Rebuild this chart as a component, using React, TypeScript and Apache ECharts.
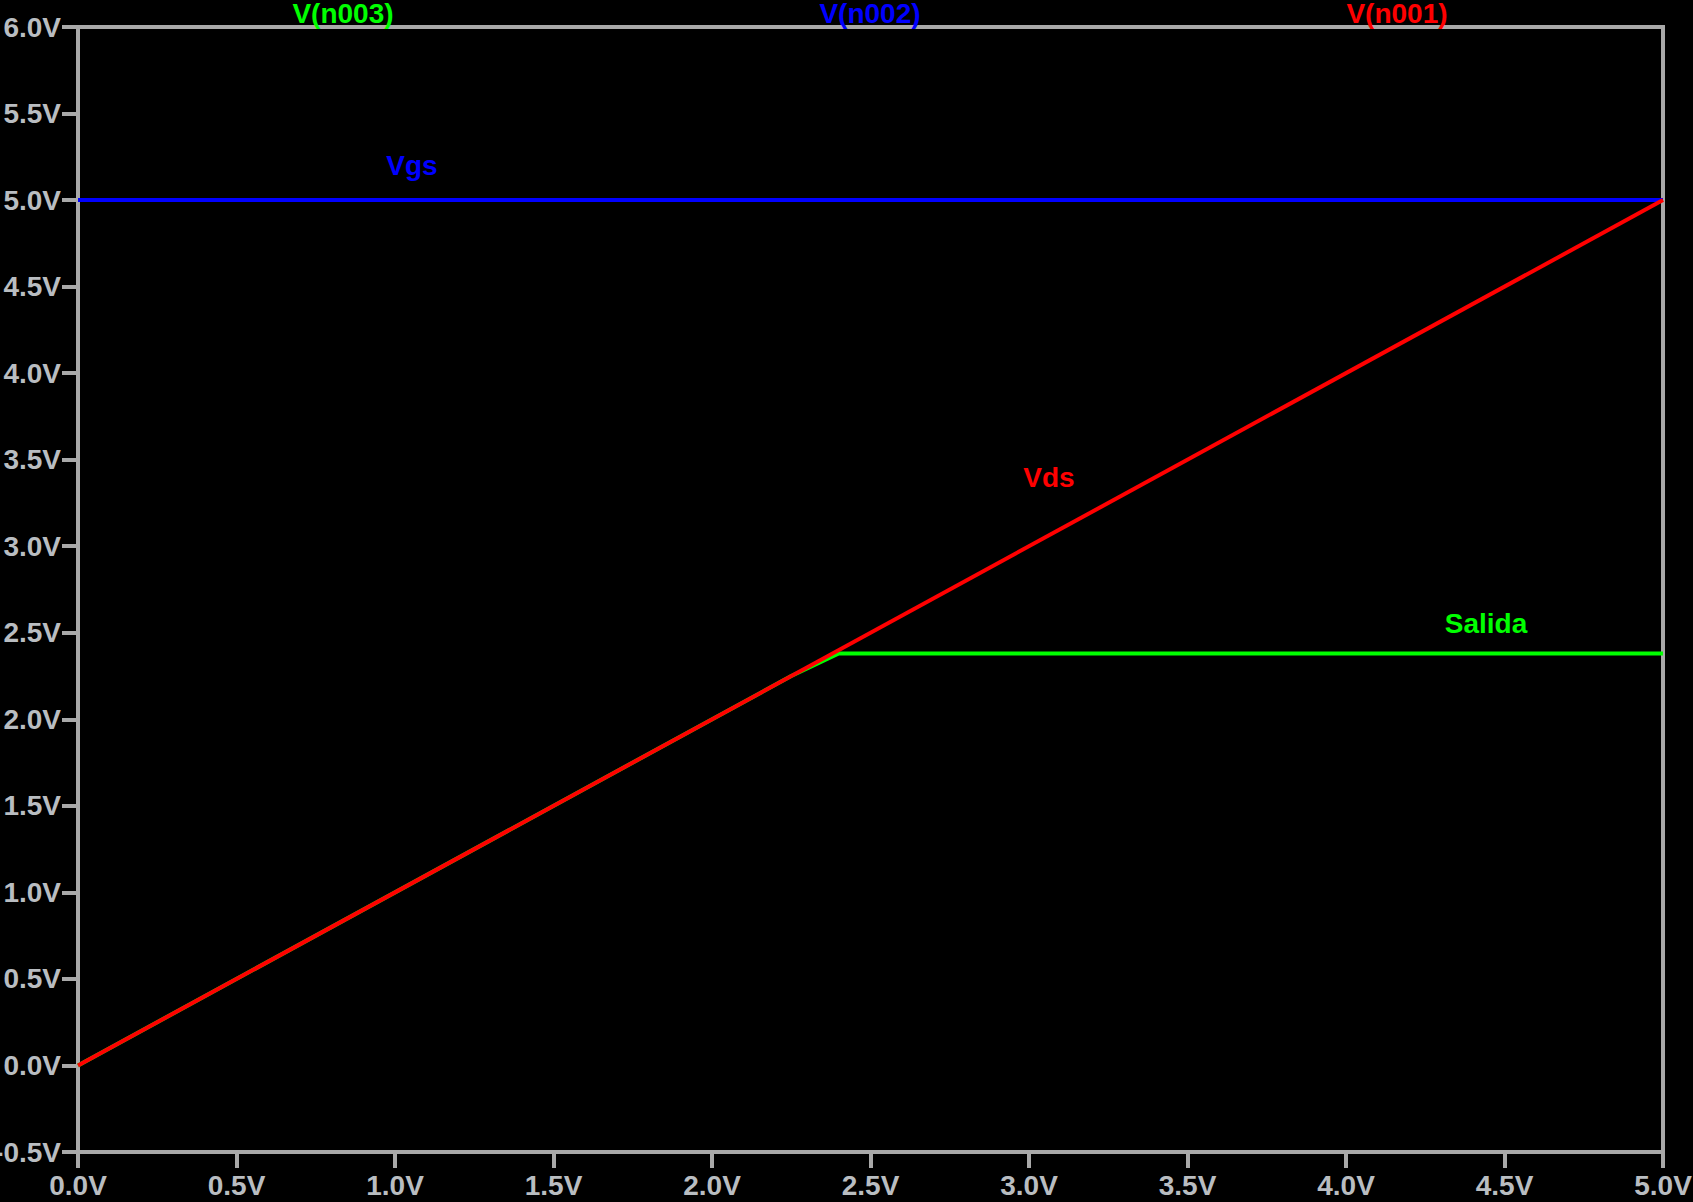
import React, { useEffect, useRef } from "react";
import * as echarts from "echarts";

const xTicksMin = 0;
const xTicksMax = 5;
const yTicksMin = -0.5;
const yTicksMax = 6;
const tickStep = 0.5;

const vgsX = [0, 5];
const vgsY = [5, 5];
const vdsX = [0, 5];
const vdsY = [0, 5];
const salidaX = [0, 2.25, 2.4, 5];
const salidaY = [0, 2.25, 2.38, 2.38];

const traceNames = ["V(n003)", "V(n002)", "V(n001)"];
const curveNames = ["Salida", "Vgs", "Vds"];
const colors = ["#00ff00", "#0000ff", "#ff0000"];

const AXIS = "#a9a9a9";
const LABEL = "#b9bdc1";
const FONT = "'Liberation Sans', Arial, sans-serif";

const pairs = (xs: number[], ys: number[]) => xs.map((x, i) => [x, ys[i]]);

export default function App() {
  const ref = useRef<HTMLDivElement>(null);
  useEffect(() => {
    document.body.style.margin = "0";
    document.body.style.background = "#000";
    const chart = echarts.init(ref.current!, undefined, { renderer: "svg" });
    const fmt = (v: number) => v.toFixed(1) + "V";
    chart.setOption({
      animation: false,
      backgroundColor: "#000",
      grid: {
        left: 78,
        right: 30,
        top: 27,
        bottom: 50,
        show: true,
        borderColor: AXIS,
        borderWidth: 4,
        backgroundColor: "#000",
        outerBoundsMode: "none",
        containLabel: false,
      },
      xAxis: {
        type: "value",
        min: xTicksMin,
        max: xTicksMax,
        interval: tickStep,
        axisLine: { show: true, onZero: false, lineStyle: { color: AXIS, width: 4 } },
        axisTick: { show: true, length: 16, lineStyle: { color: AXIS, width: 4 } },
        splitLine: { show: false },
        axisLabel: {
          formatter: fmt,
          color: LABEL,
          fontSize: 28,
          fontWeight: "bold",
          fontFamily: FONT,
          margin: 19,
          showMinLabel: true,
          showMaxLabel: true,
          hideOverlap: false,
        },
      },
      yAxis: {
        type: "value",
        min: yTicksMin,
        max: yTicksMax,
        interval: tickStep,
        axisLine: { show: true, onZero: false, lineStyle: { color: AXIS, width: 4 } },
        axisTick: { show: true, length: 16, lineStyle: { color: AXIS, width: 4 } },
        splitLine: { show: false },
        axisLabel: {
          formatter: fmt,
          color: LABEL,
          fontSize: 28,
          fontWeight: "bold",
          fontFamily: FONT,
          margin: 17,
          showMinLabel: true,
          showMaxLabel: true,
          hideOverlap: false,
        },
      },
      series: [
        {
          name: curveNames[0],
          type: "line",
          data: pairs(salidaX, salidaY),
          showSymbol: false,
          lineStyle: { color: colors[0], width: 4 },
          z: 2,
        },
        {
          name: curveNames[1],
          type: "line",
          data: pairs(vgsX, vgsY),
          showSymbol: false,
          lineStyle: { color: colors[1], width: 4 },
          z: 3,
        },
        {
          name: curveNames[2],
          type: "line",
          data: pairs(vdsX, vdsY),
          showSymbol: false,
          lineStyle: { color: colors[2], width: 4 },
          z: 4,
        },
      ],
      graphic: [
        ...traceNames.map((t, i) => ({
          type: "text",
          x: [343, 870, 1397][i],
          y: 13,
          z: 100,
          style: {
            text: t,
            fill: colors[i],
            font: `bold 28px ${FONT}`,
            textAlign: "center",
            textVerticalAlign: "middle",
          },
        })),
        ...curveNames.map((t, i) => ({
          type: "text",
          x: [1486, 412, 1049][i],
          y: [623, 165, 477][i],
          z: 100,
          style: {
            text: t,
            fill: colors[i],
            font: `bold 28px ${FONT}`,
            textAlign: "center",
            textVerticalAlign: "middle",
          },
        })),
      ],
    });
    return () => chart.dispose();
  }, []);
  return (
    <div
      ref={ref}
      style={{ position: "fixed", left: 0, top: 0, width: 1693, height: 1202, background: "#000" }}
    />
  );
}
